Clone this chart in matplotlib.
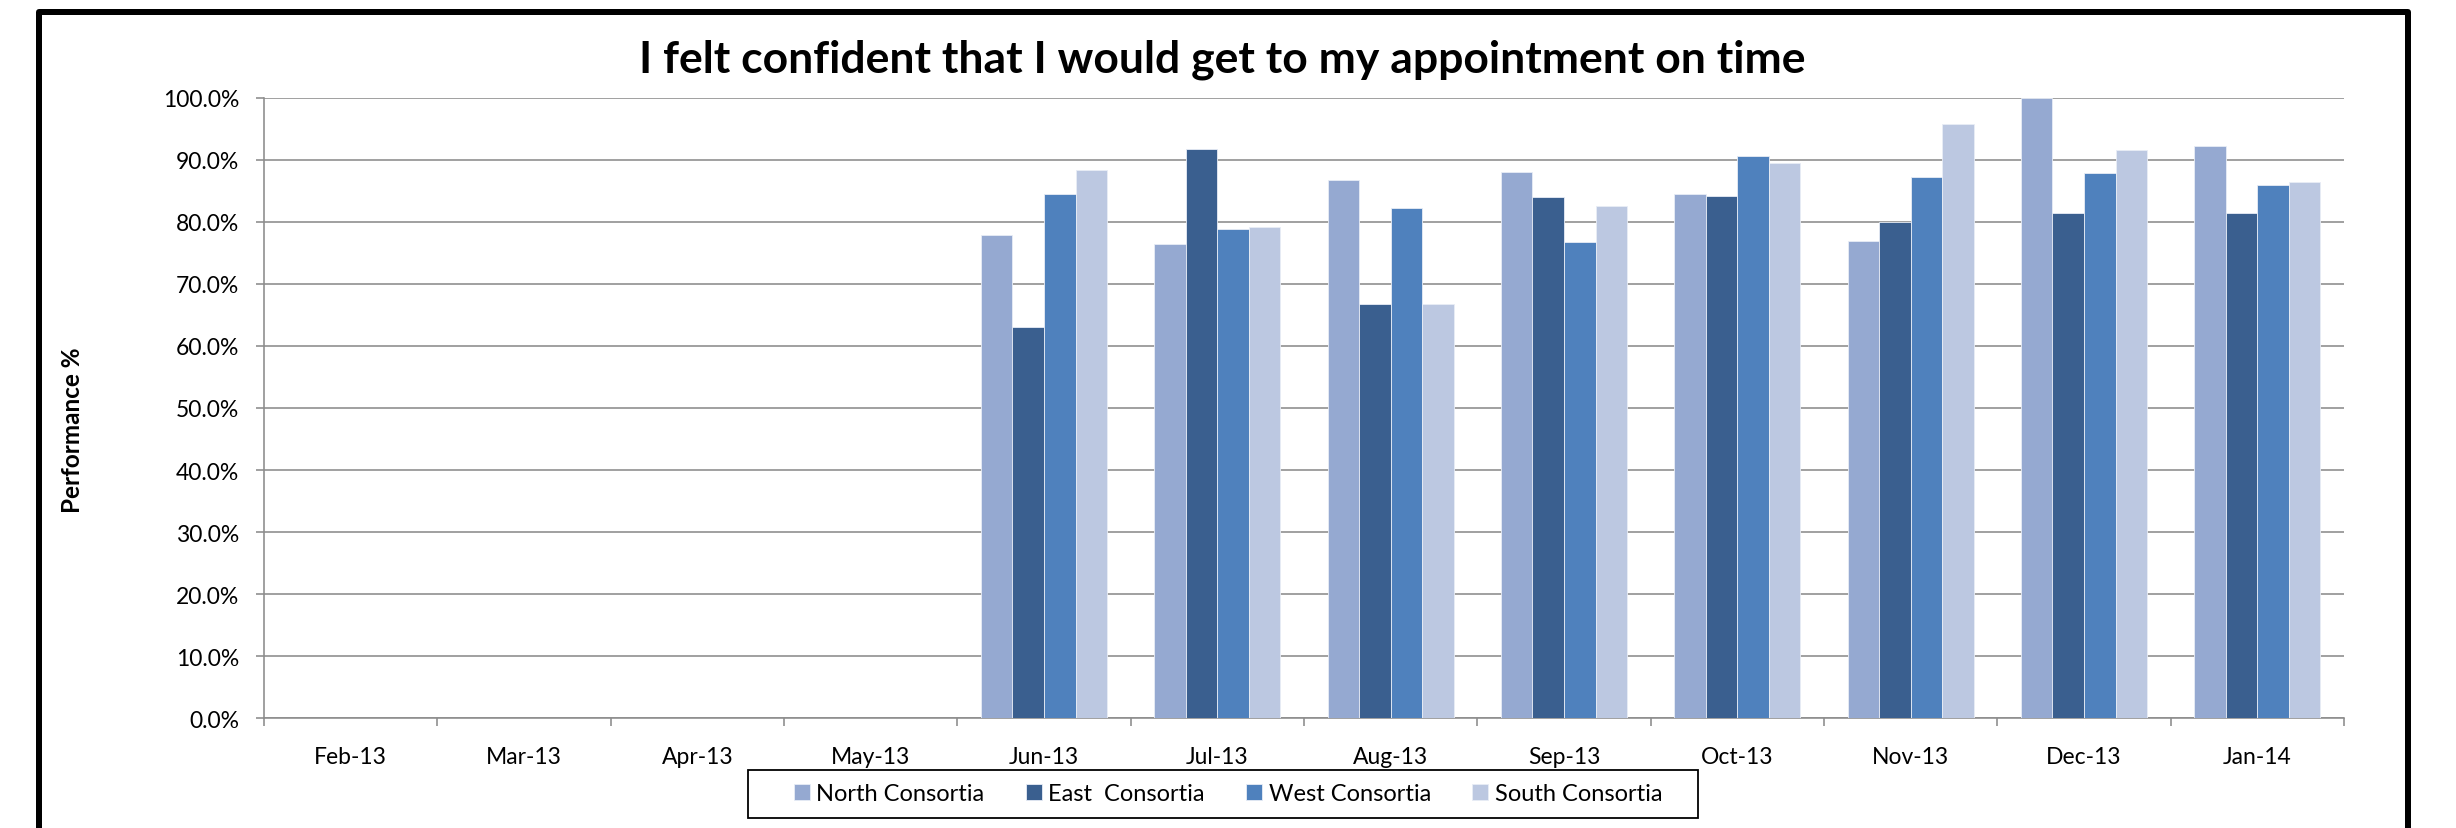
import numpy as np
import matplotlib
matplotlib.use("Agg")
import matplotlib.pyplot as plt
from matplotlib.patches import Rectangle
from matplotlib.ticker import PercentFormatter, FixedLocator

plt.rcParams['font.family'] = ['Lato', 'DejaVu Sans']

# Survey results per month (percent); no data before June 2013
months = ['Feb-13', 'Mar-13', 'Apr-13', 'May-13', 'Jun-13', 'Jul-13',
          'Aug-13', 'Sep-13', 'Oct-13', 'Nov-13', 'Dec-13', 'Jan-14']
north = [None, None, None, None, 77.8, 76.4, 86.7, 88.0, 84.5, 76.9, 100.0, 92.2]
east = [None, None, None, None, 63.1, 91.7, 66.7, 84.0, 84.2, 80.0, 81.4, 81.5]
west = [None, None, None, None, 84.5, 78.9, 82.2, 76.8, 90.6, 87.2, 87.9, 86.0]
south = [None, None, None, None, 88.3, 79.2, 66.7, 82.5, 89.4, 95.7, 91.6, 86.4]
series_names = ['North Consortia', 'East  Consortia', 'West Consortia', 'South Consortia']
series_colors = ['#95A9D1', '#3A5F8F', '#4F81BD', '#BCC8E1']
title = 'I felt confident that I would get to my appointment on time'
y_label = 'Performance %'

W, H, DPI = 2456, 829, 100
fig = plt.figure(figsize=(W / DPI, H / DPI), dpi=DPI)
fig.patch.set_facecolor('white')

def px(v):
    return v * 72.0 / DPI

ax_left, ax_right, ax_top, ax_bottom = 264, 2344, 98.7, 719.3
ax = fig.add_axes([ax_left / W, 1 - ax_bottom / H,
                   (ax_right - ax_left) / W, (ax_bottom - ax_top) / H])

grid_col = '#8C8C8C'
x = np.arange(len(months))
bw = 1 / 5.5
handles = []
for i, (vals, name, col) in enumerate(zip([north, east, west, south], series_names, series_colors)):
    h = np.array([np.nan if v is None else v / 100.0 for v in vals])
    b = ax.bar(x + (i - 1.5) * bw, h, width=bw, color=col, edgecolor='#E8EDF6',
               linewidth=0.6, label=name, zorder=3)
    handles.append(b)

ax.set_xlim(-0.5, len(months) - 0.5)
ax.set_ylim(0, 1.0)
ax.yaxis.set_major_locator(FixedLocator(np.arange(0, 1.01, 0.1)))
ax.yaxis.set_major_formatter(PercentFormatter(xmax=1.0, decimals=1))
ax.yaxis.grid(True, color=grid_col, linewidth=px(1.6), zorder=0)
ax.set_axisbelow(True)

ax.set_xticks(x)
ax.set_xticklabels(months)
ax.set_xticks(np.arange(-0.5, len(months), 1.0), minor=True)
ax.tick_params(axis='x', which='major', length=0, pad=px(28), labelsize=16.5)
ax.tick_params(axis='x', which='minor', length=px(8), width=px(1.6), color=grid_col, direction='out')
ax.tick_params(axis='y', length=px(8), width=px(1.6), color=grid_col, direction='out',
               pad=px(17), labelsize=16.5)

for s in ['top', 'right']:
    ax.spines[s].set_visible(False)
for s in ['left', 'bottom']:
    ax.spines[s].set_color(grid_col)
    ax.spines[s].set_linewidth(px(1.6))

fig.text(1222 / W, 1 - 73 / H, title, ha='center', va='baseline',
         fontsize=32, fontweight='bold')
fig.text(72 / W, 1 - 430 / H, y_label, ha='center', va='center', rotation=90,
         fontsize=17.5, fontweight='bold')

# legend entries without their own frame; the box is drawn separately
leg = fig.legend(handles=handles, labels=series_names, loc='center',
                 bbox_to_anchor=(1228 / W, 1 - 795 / H), ncol=4,
                 fontsize=17, frameon=False, handlelength=0.68,
                 handleheight=0.68, handletextpad=0.28, columnspacing=1.75,
                 borderpad=0, borderaxespad=0)
legend_box = Rectangle((748.3 / W, 1 - 819 / H), (1698 - 748.3) / W, 48 / H,
                       transform=fig.transFigure, fill=False, edgecolor='black',
                       linewidth=px(1.8))
fig.add_artist(legend_box)

# chart-area border (open at the bottom edge of the image)
frame = Rectangle((38.5 / W, -0.05), (2408 - 38.5) / W, (1 - 13 / H) + 0.05,
                  transform=fig.transFigure, fill=False, edgecolor='black',
                  linewidth=px(6), joinstyle='round')
fig.add_artist(frame)

fig.savefig('out.png', dpi=DPI)
